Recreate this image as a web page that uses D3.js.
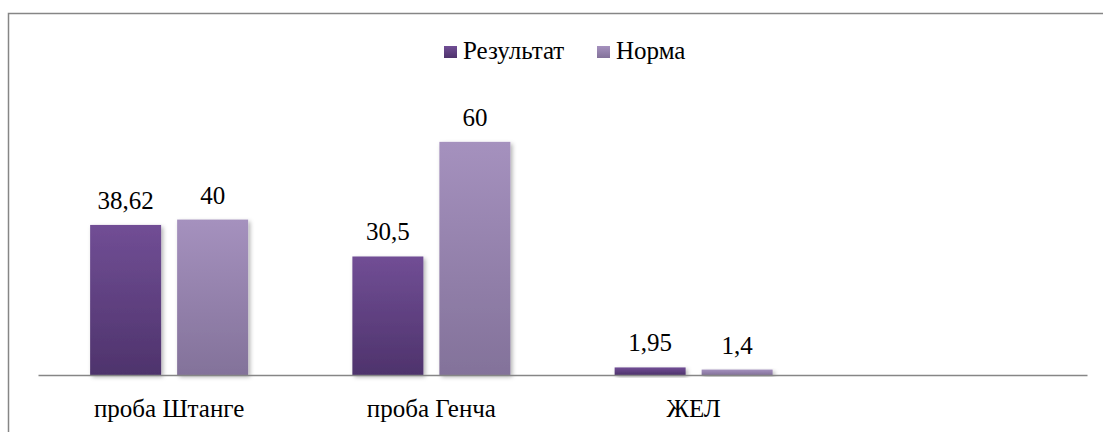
<!DOCTYPE html>
<html>
<head>
<meta charset="utf-8">
<script src="https://cdn.jsdelivr.net/npm/d3@7"></script>
<style>
  body { margin: 0; background: #fff; }
  svg text { font-family: "Liberation Serif", Tinos, "Times New Roman", "DejaVu Serif", serif; }
</style>
</head>
<body>
<div class="chart"></div>
<script>
const categories = ["проба Штанге", "проба Генча", "ЖЕЛ", ""];
const seriesNames = ["Результат", "Норма"];
const result = [38.62, 30.5, 1.95, null];
const norm = [40, 60, 1.4, null];
const labels = [["38,62", "30,5", "1,95"], ["40", "60", "1,4"]];

const W = 1103, H = 432;
const margin = {top: 103, left: 38, right: 16, bottom: 57};
const fontSize = 25;

const svg = d3.select(".chart").append("svg")
    .attr("width", W)
    .attr("height", H);

// gradients + shadow
const defs = svg.append("defs");
const grads = [["g0", "#714e95", "#4e336c"], ["g1", "#a591be", "#83729a"]];
grads.forEach(g => {
    const lg = defs.append("linearGradient").attr("id", g[0])
        .attr("x1", 0).attr("y1", 0).attr("x2", 0).attr("y2", 1);
    lg.append("stop").attr("offset", "0%").attr("stop-color", g[1]);
    lg.append("stop").attr("offset", "100%").attr("stop-color", g[2]);
});
defs.append("filter").attr("id", "shadow")
    .attr("x", "-20%").attr("y", "-20%").attr("width", "150%").attr("height", "150%")
    .append("feDropShadow")
    .attr("dx", 2).attr("dy", 2).attr("stdDeviation", 2)
    .attr("flood-color", "#000").attr("flood-opacity", 0.3);

// outer border
svg.append("rect")
    .attr("x", 8.5).attr("y", 13.5)
    .attr("width", W).attr("height", H)
    .attr("fill", "none")
    .attr("stroke", "#868686")
    .attr("stroke-width", 1.5);

const xScale = d3.scaleBand()
    .domain(d3.range(categories.length))
    .range([margin.left, W - margin.right]);

const yScale = d3.scaleLinear()
    .domain([0, 70])
    .range([375, margin.top]);

const barW = 71, gap = 16;
const data = [result, norm];

data.forEach((vals, s) => {
    vals.forEach((v, i) => {
        if (v == null) return;
        const cx = xScale(i) + xScale.bandwidth() / 2;
        const x = s === 0 ? cx - gap / 2 - barW : cx + gap / 2;
        svg.append("rect")
            .attr("x", x)
            .attr("y", yScale(v))
            .attr("width", barW)
            .attr("height", yScale(0) - yScale(v))
            .attr("fill", `url(#g${s})`)
            .attr("filter", "url(#shadow)");
        svg.append("text")
            .attr("x", x + barW / 2)
            .attr("y", yScale(v) - 16)
            .attr("text-anchor", "middle")
            .attr("font-size", fontSize)
            .attr("fill", "#000")
            .text(labels[s][i]);
    });
});

// x axis
const xAxis = d3.axisBottom(xScale)
    .tickSize(0)
    .tickPadding(0)
    .tickFormat(i => categories[i]);

const gx = svg.append("g")
    .attr("transform", `translate(0, ${yScale(0)})`)
    .call(xAxis)
    .attr("font-family", null);
gx.select(".domain").attr("stroke", "#868686").attr("stroke-width", 1.5);
gx.selectAll("text")
    .attr("font-size", fontSize)
    .attr("fill", "#000")
    .attr("dy", 0)
    .attr("y", 42);

// legend
const legendX = [444, 597];
seriesNames.forEach((n, s) => {
    svg.append("rect")
        .attr("x", legendX[s]).attr("y", 46)
        .attr("width", 13).attr("height", 12)
        .attr("fill", `url(#g${s})`);
    svg.append("text")
        .attr("x", legendX[s] + 19).attr("y", 59)
        .attr("font-size", fontSize)
        .attr("fill", "#000")
        .text(n);
});
</script>
</body>
</html>
